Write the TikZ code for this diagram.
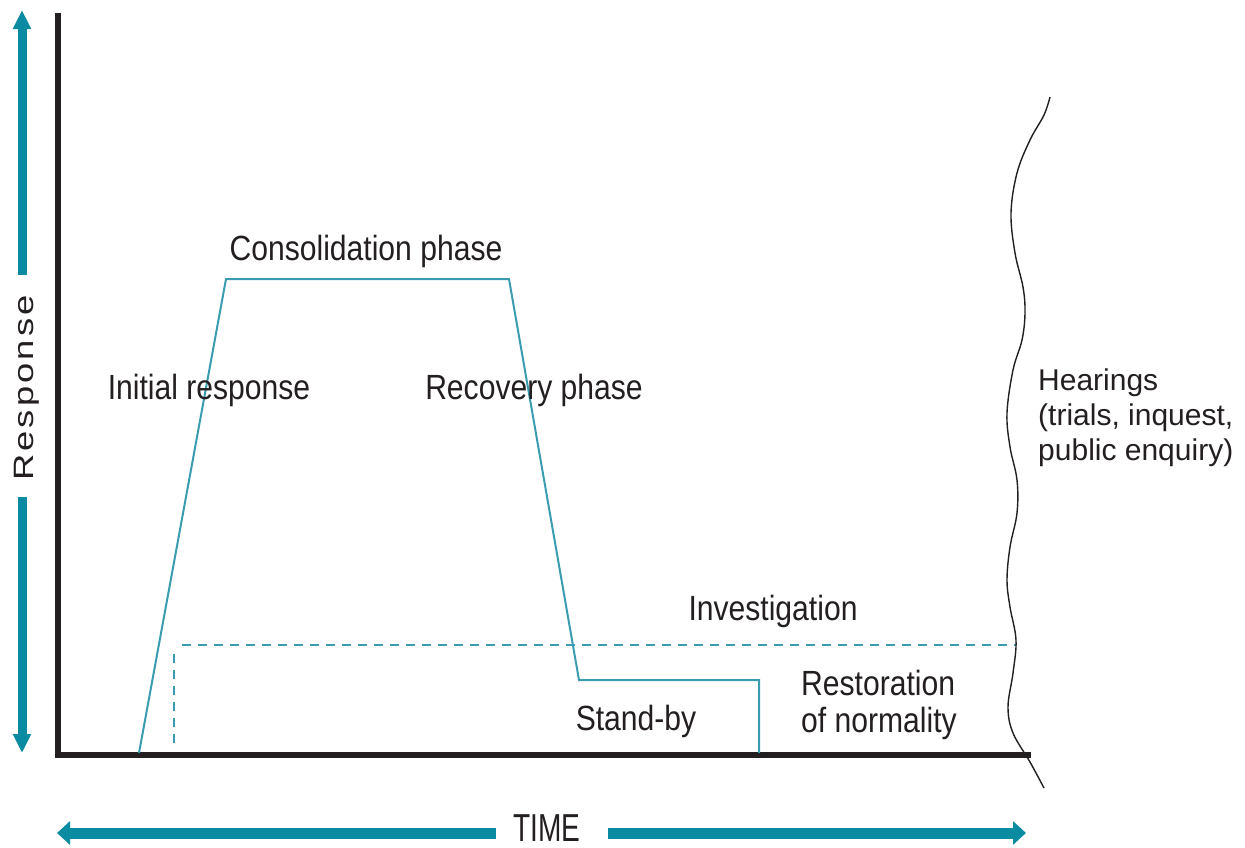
\documentclass[tikz,border=0pt]{standalone}
\usepackage{fontspec}
\setmainfont{Liberation Sans}
\newfontfamily\condf[FakeStretch=0.86]{Liberation Sans}
\newfontfamily\timef[FakeStretch=0.72]{Liberation Sans}
\newfontfamily\respf[FakeStretch=1.3,LetterSpace=11]{Liberation Sans}
\usetikzlibrary{arrows.meta}
\definecolor{tealA}{HTML}{0B8BA1}
\definecolor{tealL}{HTML}{3A9CB0}
\definecolor{inkc}{HTML}{231F20}
\tikzset{
  lbl/.style={inner sep=0pt, anchor=base, text=inkc, font=\condf\fontsize{35}{37}\selectfont},
  hlbl/.style={inner sep=0pt, anchor=base west, text=inkc, font=\fontsize{30}{35}\selectfont},
  axisline/.style={line width=6pt, draw=inkc},
  phaseline/.style={line width=2pt, draw=tealL},
  dashline/.style={line width=2.4pt, draw=tealL, dash pattern=on 9pt off 7pt},
  bigarrowv/.style={line width=9pt, draw=tealA, -{Triangle[width=17pt,length=19pt]}},
  bigarrowh/.style={line width=11pt, draw=tealA, -{Triangle[width=23pt,length=13pt]}},
}
\begin{document}
\begin{tikzpicture}[x=1pt,y=-1pt]
\useasboundingbox (0,0) rectangle (1245,847);
% axes
\coordinate (ytop) at (58,13);
\coordinate (orig) at (58,755);
\coordinate (xend) at (1031,755);
\draw[axisline, line cap=butt] (ytop) -- (orig) -- (xend);
% response arrow
\node[rotate=90, anchor=base, inner sep=0pt, text=inkc, font=\respf\fontsize{28}{30}\selectfont] (resp) at (34,388) {Response};
\coordinate (ra1) at (22,275);
\coordinate (ra2) at (22,10);
\coordinate (rb1) at (22,497);
\coordinate (rb2) at (22,753);
\draw[bigarrowv] (ra1) -- (ra2);
\draw[bigarrowv] (rb1) -- (rb2);
% time arrow
\node[inner sep=0pt, anchor=base, text=inkc, font=\timef\fontsize{39}{41}\selectfont] (time) at (547,841) {TIME};
\coordinate (ta1) at (496,833);
\coordinate (ta2) at (57,833);
\coordinate (tb1) at (608,833);
\coordinate (tb2) at (1026,833);
\draw[bigarrowh] (ta1) -- (ta2);
\draw[bigarrowh] (tb1) -- (tb2);
% phase line
\coordinate (p0) at (139,753);
\coordinate (p1) at (226,279);
\coordinate (p2) at (509,279);
\coordinate (p3) at (579,680);
\coordinate (p4) at (759,680);
\coordinate (p5) at (759,753);
\draw[phaseline, line join=miter] (p0) -- (p1) -- (p2) -- (p3) -- (p4) -- (p5);
% investigation dashed
\coordinate (d0) at (174,743);
\coordinate (d1) at (174,648);
\coordinate (d2) at (182,645);
\coordinate (d3) at (1016,645);
\draw[dashline] (d0) -- (d1);
\draw[dashline] (d2) -- (d3);
% wavy line
\draw[line width=1.4pt, draw=inkc] plot[smooth, tension=0.6] coordinates {
 (1050,97) (1044,115) (1030,140) (1017,173) (1011,213) (1015,253) (1023,287) (1025,313)
 (1022,340) (1013,370) (1007,413) (1010,447) (1017,480) (1017,513) (1010,547)
 (1007,580) (1010,607) (1016,640) (1013,673) (1008,707) (1013,733) (1030,762) (1044,788)};
% labels
\node[lbl] (cons) at (366,260) {Consolidation phase};
\node[lbl] (init) at (209,399) {Initial response};
\node[lbl] (reco) at (534,399) {Recovery phase};
\node[lbl] (inv) at (773,620) {Investigation};
\node[lbl] (stb) at (636,730) {Stand-by};
\node[lbl, anchor=base west] (rest) at (801,695) {Restoration};
\node[lbl, anchor=base west] (norm) at (801,732) {of normality};
\node[hlbl] (hear1) at (1038,390) {Hearings};
\node[hlbl] (hear2) at (1038,425) {(trials, inquest,};
\node[hlbl] (hear3) at (1038,460) {public enquiry)};
\end{tikzpicture}
\end{document}
